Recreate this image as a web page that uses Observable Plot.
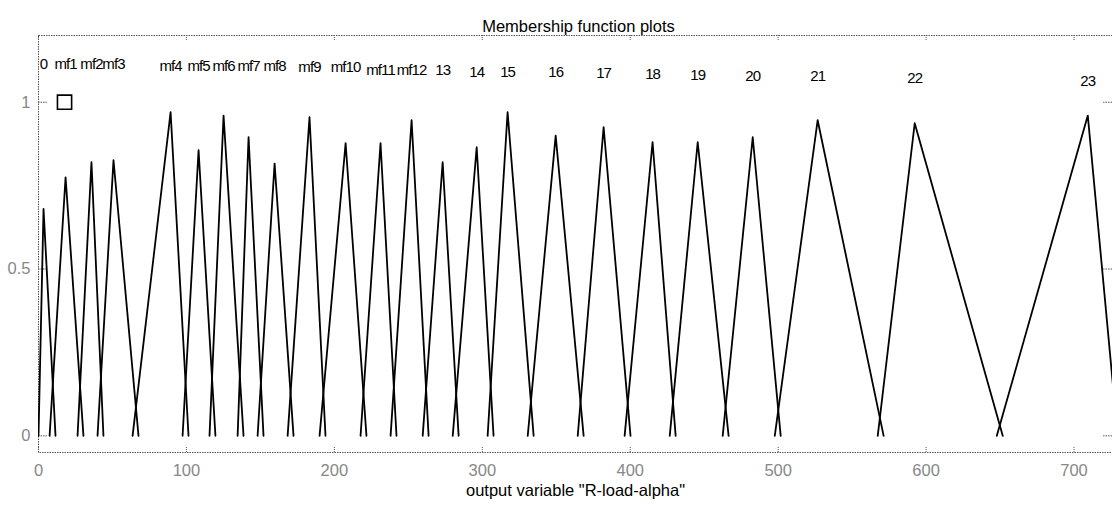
<!DOCTYPE html>
<html>
<head>
<meta charset="utf-8">
<script src="https://cdn.jsdelivr.net/npm/d3@7"></script>
<script src="https://cdn.jsdelivr.net/npm/@observablehq/plot@0.6"></script>
<style>
  html, body { margin: 0; padding: 0; background: white; }
</style>
</head>
<body>
<div id="chart"></div>
<script>
// Membership functions of output variable "R-load-alpha" (triangles)
const mfNames = ["0","mf1","mf2","mf3","mf4","mf5","mf6","mf7","mf8","mf9","mf10","mf11","mf12",
                 "13","14","15","16","17","18","19","20","21","22","23"];
const peakX = [3.4, 18.3, 35.8, 50.7, 89.3, 108.2, 125.1, 142.0, 159.6, 183.2, 207.6, 231.2,
               252.2, 273.2, 296.2, 317.1, 349.6, 382.0, 415.1, 445.6, 482.8, 526.7, 592.3, 709.3];
const peakY = [0.68, 0.775, 0.82, 0.826, 0.97, 0.856, 0.96, 0.895, 0.816, 0.955, 0.877, 0.877,
               0.946, 0.82, 0.865, 0.97, 0.90, 0.925, 0.88, 0.88, 0.895, 0.946, 0.937, 0.96];
const leftFoot = [0, 7.5, 26.4, 39.9, 63.6, 97.4, 115.6, 134.6, 148.1, 168.4, 190.0, 217.7,
                  238.0, 259.7, 280.0, 303.6, 330.7, 364.5, 396.2, 426.7, 462.5, 497.7, 567.3, 647.8];
const rightFoot = [11.5, 30.4, 43.9, 67.6, 101.4, 119.6, 138.6, 152.1, 172.4, 194.0, 221.7, 242.0,
                   263.7, 284.0, 307.6, 334.7, 368.5, 400.2, 430.7, 466.5, 501.7, 571.3, 651.8, 729.5];
const labelY = [1.114, 1.114, 1.114, 1.114, 1.108, 1.108, 1.108, 1.108, 1.108, 1.105, 1.105, 1.096,
                1.096, 1.096, 1.09, 1.09, 1.09, 1.087, 1.084, 1.081, 1.078, 1.078, 1.072, 1.063];
const xTicks = [0, 100, 200, 300, 400, 500, 600, 700];
const yTicks = [0, 0.5, 1];
const markerPoint = [{x: 17.6, y: 1}];
const xDomain = [0, 726];
const yDomain = [-0.05, 1.2];
const titleText = "Membership function plots";
const xLabelText = 'output variable "R-load-alpha"';

const points = [];
mfNames.forEach((name, i) => {
  points.push({mf: name, x: leftFoot[i], y: 0});
  points.push({mf: name, x: peakX[i], y: peakY[i]});
  points.push({mf: name, x: rightFoot[i], y: 0});
});
const labels = mfNames.map((name, i) => ({name, x: peakX[i], y: labelY[i]}));

const tickLenY = 0.018, tickLenX = 6;

const chart = Plot.plot({
  width: 1112,
  height: 508,
  marginLeft: 38,
  marginRight: 0,
  marginTop: 35,
  marginBottom: 56,
  style: {fontFamily: "'Liberation Sans', Arial, sans-serif", background: "white", color: "black"},
  x: {domain: xDomain, axis: null},
  y: {domain: yDomain, axis: null},
  marks: [
    Plot.frame({stroke: "#555", strokeDasharray: "1.5 1"}),
    Plot.ruleX(xTicks, {x: d => d, y1: yDomain[0], y2: yDomain[0] + tickLenY, stroke: "#555", strokeDasharray: "1 1"}),
    Plot.ruleX(xTicks, {x: d => d, y1: yDomain[1], y2: yDomain[1] - tickLenY, stroke: "#555", strokeDasharray: "1 1"}),
    Plot.ruleY(yTicks, {y: d => d, x1: xDomain[0], x2: xDomain[0] + tickLenX, stroke: "#555", strokeDasharray: "1.5 1"}),
    Plot.ruleY(yTicks, {y: d => d, x1: xDomain[1], x2: xDomain[1] - tickLenX, stroke: "#555", strokeDasharray: "1.5 1"}),
    Plot.axisX({ticks: xTicks, tickSize: 0, tickPadding: 12, fontSize: 16.5, fill: "#888", label: null, tickFormat: d => String(d)}),
    Plot.axisY({ticks: yTicks, tickSize: 0, tickPadding: 8, fontSize: 16.5, fill: "#888", label: null, tickFormat: d => String(d)}),
    Plot.line(points, {x: "x", y: "y", z: "mf", stroke: "black", strokeWidth: 1.8, clip: true}),
    Plot.dot(markerPoint, {x: "x", y: "y", symbol: "square", r: 8, stroke: "black", strokeWidth: 1.6, fill: "none"}),
    Plot.text(labels, {x: "x", y: "y", text: "name", fontSize: 15, fill: "black"}),
    Plot.text([titleText], {text: d => d, frameAnchor: "top", dy: -15, dx: 3, fontSize: 16.5, fill: "black"}),
    Plot.text([xLabelText], {text: d => d, frameAnchor: "bottom", dy: 43, fontSize: 16.5, fill: "black"})
  ]
});
// condense the membership-function labels, as in the original narrow rendering
d3.select(chart).selectAll('g[aria-label="text"] text')
  .filter(function () { return mfNames.includes(this.textContent); })
  .style("letter-spacing", "-0.9px");
document.getElementById("chart").appendChild(chart);
</script>
</body>
</html>
